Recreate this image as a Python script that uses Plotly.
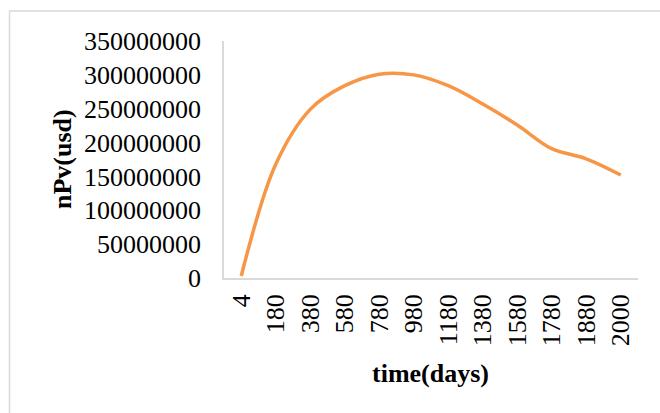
import plotly.graph_objects as go

# Net present value over time
days = ["4", "180", "380", "580", "780", "980", "1180", "1380", "1580", "1780", "1880", "2000"]
npv_usd = [3000000, 168000000, 249000000, 284000000, 301000000, 300000000,
           284000000, 257000000, 226000000, 191000000, 176000000, 152000000]

L, R, T, B = 224, 22, 41, 135
W, H = 660, 413
PW, PH = W - L - R, H - T - B

def px_x(p):
    return (p - L) / PW

def px_y(p):
    return (H - B - p) / PH

fig = go.Figure()
fig.add_trace(go.Scatter(
    x=days, y=npv_usd, mode="lines",
    line=dict(color="#F79646", width=3.5, shape="spline", smoothing=1.0),
    hoverinfo="skip",
))

font = "Liberation Serif, Times New Roman, serif"
fig.update_layout(
    width=W, height=H,
    margin=dict(l=L, r=R, t=T, b=B),
    paper_bgcolor="white", plot_bgcolor="white",
    showlegend=False,
    font=dict(family=font, color="black", size=26),
    xaxis=dict(
        type="category", range=[-0.5, len(days) - 0.5],
        showgrid=False, zeroline=False,
        showline=True, linecolor="#d9d9d9", linewidth=1.5,
        tickangle=-90, ticks="", ticklabelstandoff=4,
        tickfont=dict(family=font, size=26, color="black"),
    ),
    yaxis=dict(
        range=[0, 350000000], dtick=50000000, showgrid=False, zeroline=False,
        showline=True, linecolor="#d9d9d9", linewidth=1.5,
        ticks="", ticklabelstandoff=16, tickformat="d",
        tickfont=dict(family=font, size=26, color="black"),
    ),
    shapes=[dict(
        type="rect", xref="paper", yref="paper",
        x0=px_x(9.5), x1=px_x(W + 20), y0=px_y(H + 20), y1=px_y(11),
        line=dict(color="#d9d9d9", width=1.5), layer="below",
    )],
    annotations=[
        dict(text="<b>nPv(usd)</b>", xref="paper", yref="paper",
             x=px_x(62), y=px_y(159), textangle=-90, showarrow=False,
             xanchor="center", yanchor="middle",
             font=dict(family=font, size=26, color="black")),
        dict(text="<b>time(days)</b>", xref="paper", yref="paper",
             x=px_x(430), y=px_y(373), showarrow=False,
             xanchor="center", yanchor="middle",
             font=dict(family=font, size=26, color="black")),
    ],
)

fig.write_html("out.html")
